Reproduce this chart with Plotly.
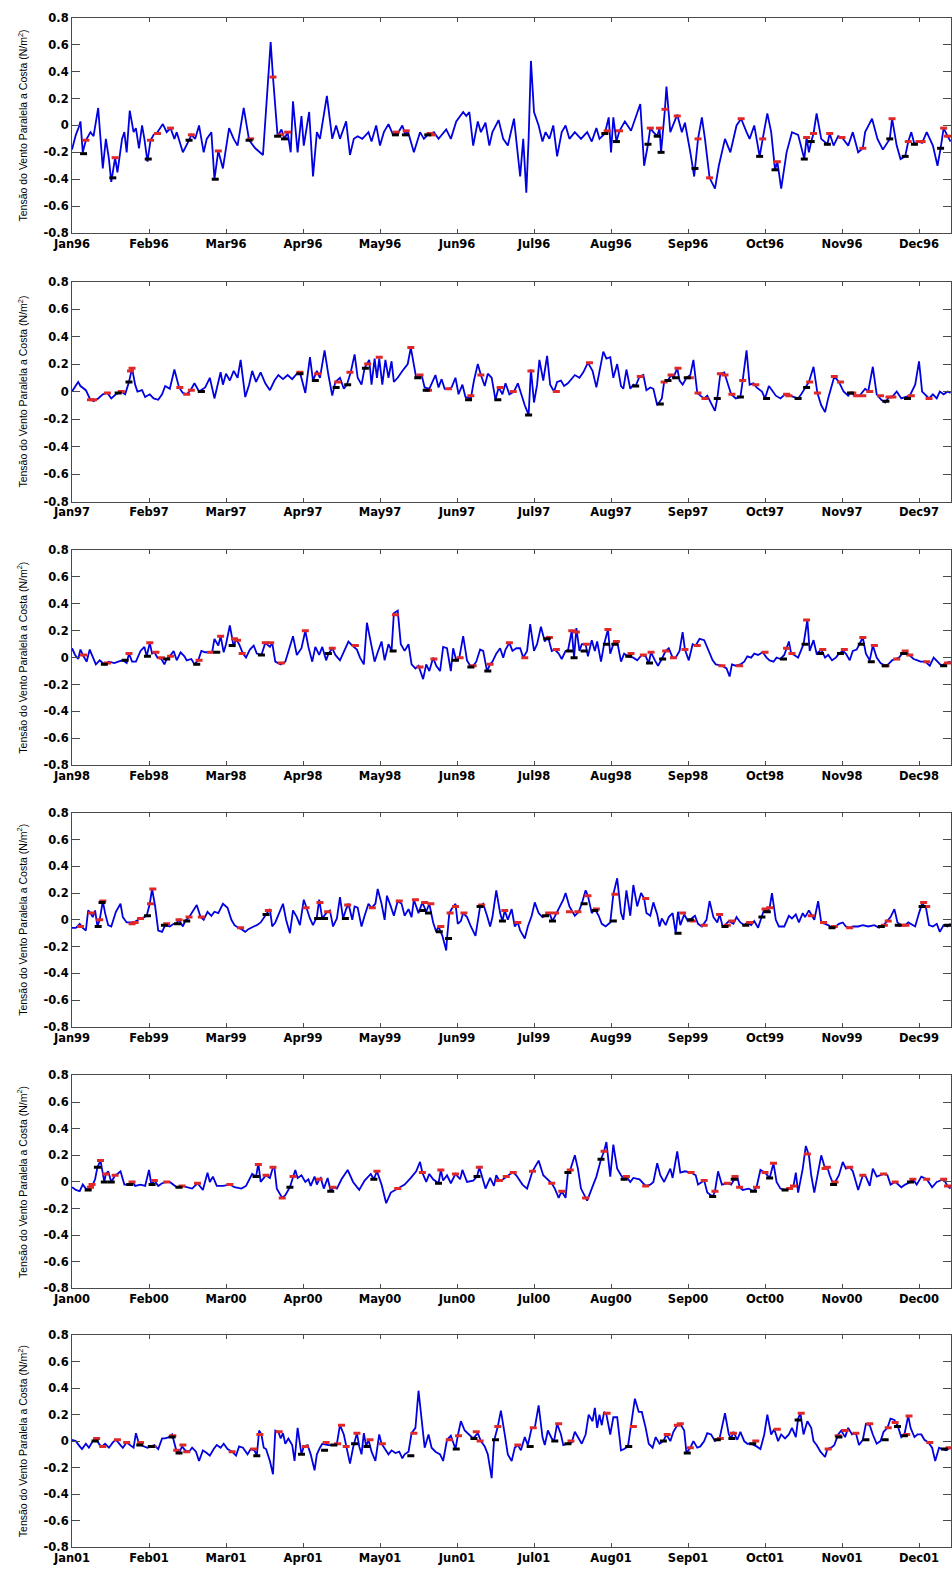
import plotly.graph_objects as go

MONTHS = ['Jan', 'Feb', 'Mar', 'Apr', 'May', 'Jun', 'Jul', 'Aug', 'Sep', 'Oct', 'Nov', 'Dec']
YEARS = ['96', '97', '98', '99', '00', '01']
Y_TICKS = [0.8, 0.6, 0.4, 0.2, 0.0, -0.2, -0.4, -0.6, -0.8]
Y_TICK_TEXT = ['0.8', '0.6', '0.4', '0.2', '0', '-0.2', '-0.4', '-0.6', '-0.8']
Y_TITLE = 'Tensão do Vento Paralela a Costa (N/m<sup>2</sup>)'

# (time in months since 1 Jan, wind stress N/m^2)
s96 = [(0.00,-0.18),(0.05,-0.07),(0.09,-0.01),(0.11,0.03),(0.14,-0.20),(0.18,-0.11),(0.24,-0.05),(0.28,-0.08),(0.34,0.13),(0.40,-0.32),
       (0.44,-0.10),(0.48,-0.25),(0.51,-0.42),(0.56,-0.24),(0.59,-0.35),(0.65,-0.10),(0.68,-0.05),(0.71,-0.20),(0.75,0.11),(0.80,-0.05),
       (0.83,-0.02),(0.87,-0.17),(0.91,0.00),(0.94,-0.10),(0.98,-0.27),(1.02,-0.11),(1.06,-0.07),(1.11,-0.05),(1.18,0.01),(1.23,-0.05),
       (1.28,-0.02),(1.33,-0.10),(1.36,-0.05),(1.44,-0.20),(1.52,-0.11),(1.55,-0.07),(1.60,-0.10),(1.65,0.00),(1.71,-0.20),(1.75,-0.10),
       (1.81,-0.05),(1.85,-0.40),(1.90,-0.19),(1.96,-0.32),(2.04,-0.02),(2.10,-0.10),(2.15,-0.15),(2.23,0.13),(2.30,-0.11),(2.38,-0.17),
       (2.48,-0.22),(2.58,0.62),(2.61,0.36),(2.67,-0.08),(2.72,-0.03),(2.76,-0.10),(2.80,-0.05),(2.84,-0.20),(2.87,0.18),(2.91,-0.10),
       (2.93,-0.20),(2.98,0.07),(3.01,-0.15),(3.08,0.10),(3.13,-0.38),(3.18,-0.05),(3.22,-0.10),(3.31,0.22),(3.38,-0.10),(3.43,0.00),
       (3.48,-0.10),(3.56,0.03),(3.61,-0.22),(3.66,-0.10),(3.71,-0.08),(3.77,-0.10),(3.85,-0.05),(3.89,-0.12),(3.95,0.00),(4.00,-0.15),
       (4.05,-0.05),(4.11,0.01),(4.17,-0.07),(4.23,-0.06),(4.29,0.00),(4.33,-0.07),(4.36,-0.04),(4.44,-0.20),(4.52,-0.05),(4.57,-0.10),
       (4.62,-0.07),(4.66,-0.06),(4.70,-0.05),(4.76,-0.10),(4.86,-0.03),(4.92,-0.10),(4.99,0.03),(5.08,0.10),(5.12,0.07),(5.16,0.10),
       (5.21,-0.15),(5.27,0.03),(5.31,-0.05),(5.37,0.02),(5.42,-0.15),(5.46,-0.05),(5.54,0.04),(5.60,-0.10),(5.66,-0.15),(5.74,0.05),
       (5.77,-0.10),(5.82,-0.38),(5.86,-0.10),(5.90,-0.50),(5.93,-0.10),(5.96,0.48),(6.00,0.10),(6.06,0.00),(6.11,-0.12),(6.15,-0.05),
       (6.20,-0.10),(6.25,0.00),(6.30,-0.23),(6.36,-0.05),(6.41,0.00),(6.46,-0.10),(6.53,-0.05),(6.61,-0.10),(6.69,-0.05),(6.75,-0.12),
       (6.81,-0.02),(6.85,-0.10),(6.92,-0.06),(6.97,0.06),(7.00,-0.20),(7.03,0.06),(7.07,-0.12),(7.11,-0.04),(7.18,0.03),(7.26,-0.04),
       (7.38,0.16),(7.43,-0.30),(7.48,-0.14),(7.51,-0.02),(7.55,-0.05),(7.60,-0.08),(7.63,-0.02),(7.65,-0.20),(7.70,0.12),(7.72,0.29),
       (7.77,-0.05),(7.86,0.08),(7.92,-0.05),(7.96,0.02),(8.03,-0.20),(8.08,-0.38),(8.13,-0.10),(8.18,0.06),(8.22,-0.10),(8.28,-0.39),
       (8.35,-0.47),(8.40,-0.30),(8.48,-0.10),(8.55,-0.20),(8.63,0.00),(8.69,0.05),(8.76,-0.05),(8.80,-0.10),(8.86,0.00),(8.93,-0.23),
       (8.97,-0.10),(9.03,0.09),(9.08,-0.05),(9.13,-0.33),(9.16,-0.27),(9.21,-0.47),(9.28,-0.20),(9.35,-0.05),(9.43,-0.07),(9.51,-0.25),
       (9.54,-0.09),(9.57,-0.20),(9.60,-0.12),(9.63,-0.06),(9.67,0.09),(9.73,-0.10),(9.81,-0.14),(9.84,-0.06),(9.89,-0.15),(9.95,-0.08),
       (10.00,-0.09),(10.08,-0.15),(10.14,-0.05),(10.21,-0.20),(10.27,-0.17),(10.30,-0.05),(10.39,0.05),(10.46,-0.10),(10.53,-0.18),(10.62,-0.10),
       (10.65,0.05),(10.71,-0.15),(10.76,-0.25),(10.82,-0.23),(10.86,-0.12),(10.90,-0.05),(10.94,-0.14),(11.00,-0.12),(11.04,-0.13),(11.10,-0.05),
       (11.18,-0.15),(11.24,-0.30),(11.28,-0.17),(11.32,-0.02),(11.37,-0.08),(11.41,-0.12)]
red96 = [(0.18,-0.11),(0.56,-0.24),(1.02,-0.11),(1.11,-0.06),(1.28,-0.02),(1.55,-0.07),(1.90,-0.19),(2.32,-0.10),(2.61,0.36),(2.71,-0.07),
         (2.80,-0.05),(4.21,-0.05),(4.34,-0.04),(4.65,-0.06),(4.68,-0.07),(6.95,-0.04),(7.11,-0.04),(7.51,-0.02),(7.63,-0.02),(7.70,0.12),
         (7.86,0.07),(8.13,-0.10),(8.28,-0.39),(8.69,0.05),(8.97,-0.10),(9.16,-0.27),(9.54,-0.09),(9.63,-0.06),(9.84,-0.06),(10.00,-0.09),
         (10.27,-0.17),(10.65,0.05),(10.86,-0.12),(11.00,-0.12),(11.04,-0.12),(11.32,-0.02),(11.37,-0.08)]
blk96 = [(0.15,-0.21),(0.53,-0.39),(0.99,-0.25),(1.52,-0.11),(1.86,-0.40),(2.30,-0.11),(2.67,-0.08),(2.76,-0.10),(4.20,-0.07),(4.33,-0.07),
         (4.62,-0.07),(6.92,-0.06),(7.07,-0.12),(7.48,-0.14),(7.60,-0.08),(7.65,-0.20),(8.09,-0.32),(8.93,-0.23),(9.13,-0.33),(9.51,-0.25),
         (9.60,-0.12),(9.81,-0.14),(10.62,-0.10),(10.82,-0.23),(10.94,-0.14),(11.28,-0.17)]

s97 = [(0.00,0.00),(0.04,0.04),(0.08,0.07),(0.11,0.04),(0.15,0.02),(0.18,0.01),(0.23,-0.05),(0.28,-0.07),(0.34,-0.05),(0.40,-0.02),
       (0.46,-0.01),(0.51,-0.05),(0.57,-0.02),(0.64,0.00),(0.69,-0.02),(0.74,0.07),(0.78,0.17),(0.82,0.05),(0.85,0.00),(0.91,0.01),
       (0.95,-0.04),(1.01,-0.02),(1.06,-0.05),(1.12,-0.06),(1.17,-0.02),(1.21,0.04),(1.27,0.02),(1.33,0.16),(1.39,0.03),(1.44,-0.01),
       (1.49,-0.02),(1.54,0.01),(1.59,0.06),(1.65,0.00),(1.73,0.03),(1.79,0.10),(1.85,-0.05),(1.90,0.08),(1.93,0.14),(1.96,0.05),
       (2.00,0.13),(2.05,0.08),(2.10,0.15),(2.15,0.10),(2.19,0.23),(2.25,-0.04),(2.30,0.05),(2.34,0.15),(2.39,0.07),(2.45,0.14),
       (2.51,0.06),(2.57,0.01),(2.63,0.08),(2.68,0.12),(2.74,0.09),(2.80,0.12),(2.86,0.09),(2.92,0.13),(2.96,0.14),(3.03,-0.01),
       (3.09,0.25),(3.13,0.08),(3.18,0.15),(3.22,0.10),(3.28,0.30),(3.33,0.12),(3.38,-0.03),(3.42,0.07),(3.48,0.10),(3.53,0.02),
       (3.57,0.05),(3.62,0.14),(3.67,0.27),(3.71,0.10),(3.76,0.05),(3.80,0.17),(3.86,0.23),(3.89,0.05),(3.93,0.24),(3.96,0.10),
       (3.99,0.24),(4.03,0.05),(4.07,0.23),(4.11,0.10),(4.15,0.22),(4.18,0.07),(4.23,0.10),(4.29,0.15),(4.36,0.20),(4.40,0.32),
       (4.44,0.20),(4.47,0.10),(4.54,0.12),(4.58,0.03),(4.64,0.02),(4.69,0.08),(4.72,0.12),(4.76,0.03),(4.80,0.09),(4.84,0.02),
       (4.89,0.02),(4.93,0.03),(4.98,0.10),(5.02,-0.02),(5.07,0.05),(5.11,-0.04),(5.18,-0.05),(5.22,0.08),(5.27,0.20),(5.31,0.12),
       (5.36,0.04),(5.40,0.13),(5.45,0.10),(5.50,-0.06),(5.54,0.03),(5.59,-0.02),(5.63,0.06),(5.68,-0.02),(5.74,0.00),(5.79,0.06),
       (5.83,-0.02),(5.88,-0.10),(5.93,-0.17),(5.96,0.16),(6.00,-0.08),(6.04,0.05),(6.07,0.23),(6.12,0.08),(6.17,0.26),(6.21,0.05),
       (6.26,0.00),(6.30,0.07),(6.35,0.08),(6.39,0.04),(6.44,0.06),(6.49,0.09),(6.53,0.12),(6.59,0.10),(6.64,0.14),(6.70,0.21),
       (6.76,0.15),(6.81,0.03),(6.85,0.15),(6.90,0.29),(6.94,0.24),(6.99,0.25),(7.03,0.10),(7.08,0.20),(7.13,0.04),(7.16,0.02),
       (7.20,0.16),(7.25,0.02),(7.29,0.05),(7.32,0.04),(7.37,0.11),(7.42,0.12),(7.46,0.01),(7.51,0.03),(7.55,0.02),(7.60,-0.10),
       (7.66,-0.05),(7.69,0.07),(7.74,0.08),(7.78,0.12),(7.81,0.10),(7.86,0.17),(7.89,0.08),(7.93,0.05),(7.98,0.10),(8.03,0.12),
       (8.07,0.23),(8.12,-0.01),(8.16,-0.03),(8.21,-0.05),(8.25,-0.03),(8.30,-0.08),(8.35,-0.14),(8.38,-0.05),(8.42,0.13),(8.47,0.14),
       (8.51,0.06),(8.56,-0.02),(8.62,-0.05),(8.68,-0.04),(8.71,0.08),(8.76,0.30),(8.80,0.05),(8.85,0.06),(8.89,0.03),(8.96,0.00),
       (9.00,-0.05),(9.05,0.04),(9.09,0.01),(9.14,-0.03),(9.20,-0.05),(9.26,-0.02),(9.32,-0.03),(9.38,-0.04),(9.43,-0.05),(9.47,-0.02),
       (9.52,0.03),(9.57,0.07),(9.63,0.18),(9.68,-0.01),(9.73,-0.10),(9.78,-0.15),(9.82,-0.05),(9.87,0.05),(9.90,0.11),(9.96,0.07),
       (10.02,0.00),(10.08,-0.03),(10.11,-0.01),(10.17,-0.03),(10.23,-0.03),(10.30,0.02),(10.34,0.00),(10.40,0.18),(10.45,-0.02),(10.51,-0.06),
       (10.56,-0.08),(10.61,-0.04),(10.65,-0.04),(10.71,0.00),(10.77,-0.05),(10.82,-0.04),(10.88,-0.03),(10.95,0.05),(11.00,0.22),(11.04,0.00),
       (11.09,-0.03),(11.13,-0.05),(11.18,-0.02),(11.23,-0.05),(11.27,0.00),(11.32,-0.02),(11.37,0.00),(11.41,-0.01)]
red97 = [(0.24,-0.06),(0.28,-0.06),(0.46,-0.01),(0.64,0.00),(0.76,0.15),(0.78,0.17),(1.40,0.03),(1.49,-0.02),(1.55,0.01),(1.68,0.00),
         (2.96,0.14),(3.19,0.13),(3.45,0.07),(3.61,0.14),(3.84,0.20),(3.99,0.25),(4.40,0.32),(4.52,0.12),(4.63,0.01),(4.89,0.02),
         (5.18,-0.03),(5.31,0.12),(5.56,0.03),(5.73,0.00),(5.96,0.15),(6.29,0.00),(6.72,0.21),(7.38,0.11),(7.69,0.07),(7.78,0.12),
         (7.87,0.17),(8.03,0.10),(8.13,-0.01),(8.22,-0.05),(8.42,0.13),(8.48,0.12),(8.57,-0.02),(8.71,0.08),(8.88,0.05),(9.28,-0.02),
         (9.31,-0.03),(9.58,0.07),(9.68,-0.01),(9.90,0.11),(9.98,0.07),(10.14,-0.01),(10.19,-0.03),(10.27,-0.03),(10.36,0.00),(10.50,-0.03),
         (10.61,-0.04),(10.66,-0.04),(10.90,-0.03),(11.13,-0.05)]
blk97 = [(0.60,-0.01),(0.74,0.07),(1.68,0.00),(2.96,0.13),(3.16,0.08),(3.43,0.03),(3.58,0.05),(3.81,0.17),(4.49,0.10),(4.60,0.01),
         (5.15,-0.06),(5.53,-0.06),(5.93,-0.17),(7.32,0.04),(7.64,-0.09),(7.74,0.08),(7.84,0.10),(7.99,0.10),(8.38,-0.05),(8.68,-0.04),
         (9.02,-0.05),(9.43,-0.05),(9.54,0.03),(10.11,-0.01),(10.57,-0.07),(10.85,-0.05)]

s98 = [(0.00,0.07),(0.04,0.02),(0.08,-0.01),(0.11,0.06),(0.15,0.01),(0.19,-0.03),(0.23,0.06),(0.27,0.00),(0.31,-0.05),(0.36,-0.02),
       (0.42,-0.05),(0.48,-0.03),(0.55,-0.04),(0.60,-0.03),(0.66,-0.02),(0.71,-0.04),(0.74,0.03),(0.78,-0.03),(0.83,-0.03),(0.89,0.05),
       (0.94,0.08),(0.97,0.01),(1.01,0.11),(1.04,0.03),(1.07,0.04),(1.11,0.00),(1.16,-0.01),(1.20,-0.05),(1.23,-0.01),(1.27,0.01),
       (1.32,0.05),(1.36,-0.02),(1.41,0.04),(1.46,0.01),(1.49,-0.02),(1.55,-0.01),(1.59,-0.05),(1.64,-0.02),(1.68,0.05),(1.73,0.04),
       (1.78,0.04),(1.82,0.04),(1.85,0.14),(1.90,0.09),(1.93,0.16),(1.97,0.04),(2.00,0.10),(2.05,0.24),(2.10,0.08),(2.13,0.14),
       (2.17,0.10),(2.22,0.03),(2.26,0.00),(2.31,0.06),(2.36,0.09),(2.40,0.03),(2.46,0.02),(2.51,0.11),(2.57,0.08),(2.60,0.11),
       (2.64,-0.03),(2.71,-0.05),(2.77,-0.03),(2.83,0.08),(2.87,0.16),(2.92,0.02),(2.98,0.07),(3.03,0.20),(3.07,0.08),(3.12,-0.03),
       (3.16,0.08),(3.21,0.02),(3.25,0.08),(3.30,-0.02),(3.33,0.03),(3.38,0.07),(3.42,0.02),(3.48,-0.02),(3.54,0.05),(3.59,0.12),
       (3.64,0.09),(3.70,0.06),(3.74,0.00),(3.79,-0.05),(3.83,0.26),(3.88,0.12),(3.93,-0.03),(3.97,0.04),(4.02,0.12),(4.06,-0.02),
       (4.11,0.10),(4.15,0.05),(4.18,0.33),(4.23,0.35),(4.27,0.10),(4.32,0.05),(4.37,0.10),(4.41,-0.05),(4.46,-0.08),(4.50,-0.06),
       (4.56,-0.16),(4.60,-0.05),(4.64,-0.10),(4.69,0.00),(4.73,-0.06),(4.78,-0.10),(4.82,0.08),(4.87,0.07),(4.92,-0.10),(4.95,0.07),
       (4.99,-0.02),(5.03,0.00),(5.08,0.16),(5.13,-0.02),(5.18,-0.07),(5.21,-0.06),(5.25,-0.03),(5.30,0.06),(5.34,0.05),(5.39,-0.10),
       (5.43,-0.05),(5.46,-0.03),(5.51,0.03),(5.56,0.07),(5.60,0.00),(5.63,0.06),(5.68,0.11),(5.72,0.05),(5.77,0.07),(5.82,0.07),
       (5.86,0.00),(5.91,0.05),(5.95,0.25),(6.00,0.05),(6.04,0.10),(6.09,0.23),(6.14,0.12),(6.18,0.16),(6.23,0.05),(6.27,0.06),
       (6.32,0.03),(6.36,-0.01),(6.41,0.05),(6.44,0.05),(6.49,0.20),(6.52,0.00),(6.55,0.22),(6.59,0.05),(6.62,0.10),(6.67,0.10),
       (6.70,0.01),(6.75,0.13),(6.79,0.05),(6.82,0.12),(6.87,-0.03),(6.91,0.10),(6.96,0.21),(6.99,0.03),(7.03,0.10),(7.08,0.12),
       (7.13,-0.03),(7.17,0.03),(7.22,0.01),(7.29,0.00),(7.34,-0.02),(7.40,0.02),(7.45,0.01),(7.49,-0.04),(7.52,0.04),(7.57,-0.02),
       (7.61,-0.06),(7.66,-0.01),(7.71,0.05),(7.75,0.07),(7.80,0.00),(7.84,0.00),(7.89,0.05),(7.93,0.19),(7.96,0.06),(8.01,-0.02),
       (8.06,0.10),(8.10,0.09),(8.15,0.14),(8.21,0.13),(8.27,0.05),(8.32,-0.02),(8.36,-0.05),(8.44,-0.06),(8.50,-0.08),(8.54,-0.14),
       (8.57,-0.05),(8.62,-0.06),(8.68,-0.05),(8.73,-0.03),(8.77,0.01),(8.82,0.00),(8.86,0.03),(8.91,0.02),(8.97,0.04),(9.02,0.00),
       (9.06,-0.02),(9.11,-0.03),(9.15,0.00),(9.20,-0.01),(9.25,0.02),(9.28,0.07),(9.31,0.12),(9.34,0.03),(9.38,0.02),(9.43,0.00),
       (9.47,0.05),(9.50,0.10),(9.55,0.28),(9.58,0.05),(9.63,0.13),(9.67,0.03),(9.73,0.06),(9.78,0.00),(9.82,0.02),(9.87,-0.02),
       (9.92,0.00),(9.96,0.03),(10.01,0.05),(10.05,0.03),(10.10,-0.02),(10.14,0.05),(10.19,0.06),(10.23,0.10),(10.27,0.15),(10.31,0.03),
       (10.36,-0.02),(10.40,0.09),(10.45,0.00),(10.50,-0.04),(10.56,-0.06),(10.60,-0.05),(10.65,-0.02),(10.69,-0.01),(10.74,0.00),(10.78,0.03),
       (10.83,0.05),(10.87,0.02),(10.93,-0.01),(10.98,-0.02),(11.02,-0.03),(11.08,-0.03),(11.14,-0.06),(11.19,0.00),(11.24,-0.03),(11.29,-0.06),
       (11.35,-0.04),(11.41,-0.03)]
red98 = [(0.15,0.02),(0.46,-0.04),(0.74,0.03),(1.01,0.11),(1.09,0.04),(1.16,0.00),(1.28,0.01),(1.65,-0.02),(1.80,0.04),(1.93,0.16),
         (2.11,0.14),(2.15,0.13),(2.21,0.03),(2.51,0.11),(2.58,0.11),(2.72,-0.04),(3.03,0.20),(3.38,0.07),(3.68,0.09),(4.20,0.32),
         (4.52,-0.07),(4.70,-0.01),(5.04,0.00),(5.21,-0.06),(5.43,-0.05),(5.68,0.11),(5.88,0.00),(6.20,0.15),(6.29,0.06),(6.49,0.20),
         (6.55,0.19),(6.68,0.10),(6.96,0.21),(7.07,0.12),(7.26,0.03),(7.42,0.02),(7.52,0.04),(7.71,0.05),(7.81,0.00),(7.96,0.06),
         (8.12,0.09),(8.44,-0.06),(8.67,-0.06),(9.00,0.04),(9.28,0.07),(9.35,0.03),(9.54,0.28),(9.75,0.06),(10.03,0.06),(10.27,0.15),
         (10.42,0.09),(10.57,-0.06),(10.71,-0.01),(10.82,0.05),(10.88,0.02),(11.10,-0.03),(11.37,-0.04)]
blk98 = [(0.42,-0.05),(0.69,-0.02),(0.98,0.01),(1.23,-0.01),(1.62,-0.05),(1.88,0.04),(2.08,0.09),(2.46,0.02),(3.33,0.03),(4.17,0.05),
         (4.98,-0.02),(5.18,-0.07),(5.40,-0.10),(6.17,0.14),(6.46,0.05),(6.52,0.00),(6.65,0.05),(6.94,0.10),(7.05,0.10),(7.23,0.01),
         (7.50,-0.04),(7.67,-0.01),(9.24,-0.01),(9.52,0.10),(9.72,0.03),(9.98,0.03),(10.25,0.10),(10.38,-0.03),(10.56,-0.06),(10.80,0.03),
         (11.32,-0.06)]

s99 = [(0.00,-0.06),(0.05,-0.06),(0.10,-0.03),(0.14,-0.06),(0.18,-0.08),(0.21,0.07),(0.24,0.05),(0.27,0.02),(0.30,0.07),(0.33,-0.05),
       (0.36,0.00),(0.40,0.14),(0.43,0.05),(0.47,-0.04),(0.51,-0.05),(0.57,0.06),(0.63,0.12),(0.66,0.02),(0.71,-0.02),(0.75,-0.02),
       (0.80,-0.02),(0.86,0.00),(0.89,0.01),(0.94,0.02),(0.97,0.03),(1.01,0.12),(1.04,0.23),(1.08,0.10),(1.12,-0.08),(1.17,-0.09),
       (1.21,-0.04),(1.27,-0.05),(1.32,-0.03),(1.35,-0.03),(1.39,0.00),(1.44,-0.05),(1.47,-0.01),(1.52,0.02),(1.56,0.06),(1.62,0.11),
       (1.67,0.02),(1.71,0.00),(1.76,0.06),(1.81,0.03),(1.85,0.06),(1.90,0.05),(1.96,0.12),(2.02,0.09),(2.07,0.00),(2.11,-0.04),
       (2.16,-0.06),(2.20,-0.07),(2.25,-0.09),(2.29,-0.07),(2.36,-0.05),(2.40,-0.04),(2.45,-0.02),(2.49,0.02),(2.52,0.04),(2.57,0.08),
       (2.60,-0.05),(2.64,-0.02),(2.69,0.05),(2.74,0.12),(2.78,0.00),(2.83,-0.10),(2.87,0.07),(2.92,0.02),(2.96,-0.04),(3.01,0.15),
       (3.04,0.10),(3.09,0.01),(3.13,-0.04),(3.18,0.02),(3.21,0.15),(3.25,0.01),(3.30,0.05),(3.35,0.07),(3.39,-0.05),(3.44,0.01),
       (3.48,0.17),(3.52,0.01),(3.56,0.08),(3.59,0.12),(3.64,0.00),(3.67,0.10),(3.71,0.09),(3.76,-0.05),(3.80,0.03),(3.85,0.12),
       (3.89,0.09),(3.94,0.12),(3.97,0.23),(4.02,0.12),(4.06,0.00),(4.09,0.18),(4.14,0.10),(4.18,0.03),(4.23,0.14),(4.28,0.12),
       (4.32,0.03),(4.37,0.08),(4.41,0.02),(4.44,0.15),(4.47,0.10),(4.50,0.05),(4.55,0.13),(4.60,0.06),(4.64,0.12),(4.69,-0.02),
       (4.73,-0.09),(4.76,-0.05),(4.81,-0.12),(4.86,-0.23),(4.87,-0.14),(4.90,0.05),(4.93,0.08),(4.98,0.12),(5.01,-0.03),(5.05,-0.01),
       (5.08,0.05),(5.13,0.02),(5.18,-0.05),(5.24,-0.12),(5.30,0.10),(5.34,0.12),(5.39,0.03),(5.43,-0.05),(5.46,0.02),(5.51,0.22),
       (5.56,0.05),(5.59,-0.01),(5.62,0.07),(5.66,0.00),(5.71,0.08),(5.75,-0.05),(5.79,-0.02),(5.82,-0.08),(5.88,-0.14),(5.92,-0.05),
       (5.97,0.03),(6.01,0.13),(6.06,0.05),(6.11,0.02),(6.15,0.03),(6.20,0.05),(6.24,-0.01),(6.29,0.05),(6.33,0.10),(6.38,0.15),
       (6.41,0.20),(6.46,0.10),(6.50,0.06),(6.53,0.03),(6.58,0.06),(6.62,0.12),(6.67,0.22),(6.70,0.18),(6.75,0.05),(6.79,0.08),
       (6.84,0.03),(6.88,-0.03),(6.93,-0.05),(6.99,-0.02),(7.03,0.19),(7.08,0.31),(7.13,0.05),(7.16,0.00),(7.20,0.22),(7.25,0.03),
       (7.29,0.26),(7.34,0.10),(7.39,0.20),(7.43,0.16),(7.46,0.05),(7.51,0.03),(7.55,0.13),(7.60,0.04),(7.63,-0.05),(7.66,0.01),
       (7.71,-0.04),(7.75,0.02),(7.80,0.05),(7.84,-0.10),(7.87,0.06),(7.90,-0.04),(7.95,0.04),(8.00,-0.01),(8.09,0.03),(8.13,-0.03),
       (8.18,-0.05),(8.24,0.00),(8.28,0.14),(8.33,0.02),(8.38,-0.02),(8.41,0.04),(8.45,-0.05),(8.48,-0.04),(8.53,-0.01),(8.59,-0.03),
       (8.63,0.02),(8.68,-0.02),(8.73,-0.04),(8.77,-0.02),(8.82,-0.04),(8.86,-0.01),(8.91,-0.06),(8.96,0.02),(8.99,0.08),(9.03,0.06),
       (9.06,0.09),(9.09,0.20),(9.14,0.00),(9.18,-0.05),(9.25,-0.05),(9.31,0.03),(9.35,0.01),(9.40,0.04),(9.44,-0.02),(9.49,0.05),
       (9.52,0.02),(9.57,0.07),(9.61,0.03),(9.64,0.00),(9.69,0.14),(9.73,-0.02),(9.78,-0.03),(9.82,-0.04),(9.87,-0.06),(9.92,-0.05),
       (9.96,-0.03),(10.01,-0.02),(10.05,-0.05),(10.10,-0.06),(10.14,-0.05),(10.21,-0.05),(10.27,-0.04),(10.34,-0.05),(10.42,-0.04),(10.48,-0.06),
       (10.54,-0.04),(10.59,-0.01),(10.63,0.02),(10.68,0.08),(10.72,-0.02),(10.77,-0.04),(10.82,-0.04),(10.86,-0.02),(10.91,-0.04),(10.95,-0.05),
       (11.00,0.05),(11.04,0.12),(11.09,0.09),(11.13,-0.04),(11.18,-0.05),(11.23,-0.03),(11.27,-0.09),(11.32,-0.04),(11.37,-0.05),(11.41,-0.03)]
red99 = [(0.11,-0.05),(0.25,0.05),(0.36,0.00),(0.40,0.14),(0.78,-0.03),(0.82,-0.02),(0.89,0.01),(1.02,0.12),(1.05,0.23),(1.23,-0.03),
         (1.39,0.00),(1.52,0.02),(1.68,0.02),(2.19,-0.06),(2.55,0.07),(3.04,0.09),(3.22,0.13),(3.32,0.06),(3.58,0.11),(3.90,0.09),
         (4.25,0.14),(4.46,0.15),(4.58,0.13),(4.66,0.12),(4.79,-0.05),(4.91,0.05),(4.98,0.10),(5.09,0.05),(5.32,0.11),(5.62,0.07),
         (5.79,-0.02),(6.19,0.05),(6.28,0.05),(6.46,0.06),(6.57,0.06),(6.70,0.18),(6.81,0.08),(7.05,0.19),(7.45,0.16),(7.93,0.05),
         (8.06,-0.01),(8.21,-0.04),(8.41,0.04),(8.51,-0.04),(8.57,-0.01),(8.80,-0.02),(9.00,0.08),(9.06,0.09),(9.60,0.03),(9.76,-0.02),
         (9.90,-0.05),(10.10,-0.06),(10.55,-0.04),(10.60,-0.01),(10.78,-0.04),(10.83,-0.04),(11.06,0.13),(11.10,0.10)]
blk99 = [(0.34,-0.05),(0.39,0.13),(0.98,0.03),(1.20,-0.04),(1.37,-0.03),(1.49,-0.01),(2.52,0.04),(3.19,0.01),(3.28,0.01),(3.55,0.01),
         (4.55,0.07),(4.63,0.05),(4.77,-0.09),(4.89,-0.14),(5.30,0.10),(5.59,-0.01),(6.15,0.03),(6.24,-0.01),(6.65,0.12),(6.79,0.07),
         (7.03,-0.01),(7.87,-0.10),(8.03,0.00),(8.48,-0.05),(8.75,-0.04),(8.96,0.02),(9.03,0.06),(9.87,-0.06),(10.51,-0.05),(10.73,-0.04),
         (11.04,0.10),(11.37,-0.04)]

s00 = [(0.00,-0.04),(0.05,-0.06),(0.10,-0.07),(0.14,-0.02),(0.18,-0.05),(0.21,-0.06),(0.24,-0.04),(0.27,-0.02),(0.30,0.02),(0.33,0.11),
       (0.37,0.16),(0.40,0.05),(0.42,0.00),(0.44,0.06),(0.47,0.08),(0.51,0.00),(0.56,0.05),(0.59,0.06),(0.63,0.08),(0.68,-0.02),
       (0.72,-0.02),(0.75,-0.02),(0.79,0.00),(0.82,-0.03),(0.89,-0.02),(0.95,-0.03),(1.00,0.09),(1.03,-0.02),(1.07,0.01),(1.12,-0.03),
       (1.17,-0.01),(1.23,0.00),(1.27,0.00),(1.32,-0.02),(1.36,-0.04),(1.43,-0.03),(1.50,-0.04),(1.56,-0.05),(1.63,-0.01),(1.70,-0.06),
       (1.76,0.07),(1.79,0.00),(1.83,0.04),(1.88,-0.03),(1.96,-0.03),(2.05,-0.02),(2.11,-0.04),(2.20,-0.05),(2.26,-0.03),(2.34,0.06),
       (2.39,0.04),(2.42,0.14),(2.45,0.00),(2.52,0.05),(2.57,0.03),(2.61,0.11),(2.63,0.10),(2.66,-0.05),(2.73,-0.12),(2.77,-0.10),
       (2.83,-0.04),(2.87,0.04),(2.90,0.09),(2.93,0.03),(2.98,0.05),(3.03,0.00),(3.07,0.02),(3.10,-0.03),(3.15,0.04),(3.18,-0.02),
       (3.21,0.02),(3.23,0.03),(3.27,-0.05),(3.32,0.03),(3.36,-0.07),(3.39,-0.04),(3.44,-0.05),(3.50,0.02),(3.58,0.09),(3.65,0.00),
       (3.73,-0.06),(3.80,0.01),(3.88,0.06),(3.92,0.02),(3.96,0.08),(4.02,-0.02),(4.08,-0.16),(4.14,-0.08),(4.23,-0.05),(4.32,-0.02),
       (4.40,0.03),(4.47,0.08),(4.52,0.15),(4.55,0.07),(4.60,0.00),(4.64,0.06),(4.69,0.02),(4.76,-0.01),(4.79,0.09),(4.82,0.01),
       (4.87,0.05),(4.92,-0.01),(4.98,0.06),(5.04,0.02),(5.07,0.09),(5.13,0.00),(5.21,0.01),(5.26,0.04),(5.29,0.11),(5.37,-0.05),
       (5.43,0.03),(5.48,-0.03),(5.51,0.05),(5.55,0.01),(5.60,0.02),(5.64,0.04),(5.69,0.06),(5.73,0.07),(5.77,0.05),(5.85,-0.02),
       (5.91,-0.05),(5.98,0.08),(6.06,0.16),(6.12,0.05),(6.18,0.02),(6.23,-0.01),(6.27,-0.05),(6.32,-0.12),(6.36,-0.07),(6.41,-0.12),
       (6.44,0.07),(6.47,0.09),(6.53,0.20),(6.57,0.10),(6.61,-0.05),(6.67,-0.12),(6.69,-0.14),(6.75,-0.05),(6.81,0.04),(6.87,0.17),
       (6.91,0.23),(6.94,0.30),(6.99,0.04),(7.03,0.28),(7.08,0.10),(7.13,0.05),(7.17,0.02),(7.20,0.04),(7.25,0.00),(7.29,0.03),
       (7.37,0.02),(7.45,-0.03),(7.51,-0.02),(7.55,0.00),(7.60,0.14),(7.64,0.05),(7.69,0.00),(7.77,0.10),(7.80,0.03),(7.86,0.23),
       (7.90,0.07),(7.96,0.08),(8.04,0.07),(8.10,0.05),(8.13,-0.02),(8.21,0.01),(8.25,-0.08),(8.32,-0.11),(8.35,-0.07),(8.39,0.08),
       (8.44,-0.02),(8.51,-0.01),(8.56,-0.02),(8.60,0.02),(8.64,0.04),(8.67,-0.04),(8.71,-0.06),(8.79,-0.05),(8.85,-0.07),(8.89,-0.04),
       (8.94,0.09),(9.00,0.07),(9.06,0.03),(9.11,0.14),(9.15,0.00),(9.20,-0.05),(9.26,-0.06),(9.32,-0.05),(9.37,-0.03),(9.40,0.07),
       (9.43,-0.08),(9.49,0.10),(9.53,0.27),(9.57,0.20),(9.60,0.05),(9.64,-0.08),(9.69,0.08),(9.73,0.20),(9.78,0.10),(9.81,0.11),
       (9.84,0.05),(9.89,-0.02),(9.91,0.00),(9.96,0.05),(10.01,0.15),(10.05,0.10),(10.10,0.11),(10.14,0.08),(10.21,-0.06),(10.27,0.05),
       (10.31,0.04),(10.36,-0.03),(10.40,0.10),(10.45,0.04),(10.54,0.06),(10.59,0.05),(10.63,-0.02),(10.69,0.00),(10.77,-0.04),(10.82,-0.02),
       (10.89,0.00),(10.92,0.02),(10.97,-0.02),(11.03,0.04),(11.10,0.02),(11.17,-0.04),(11.23,0.00),(11.32,0.02),(11.37,-0.03),(11.41,-0.05)]
red00 = [(0.24,-0.04),(0.26,-0.02),(0.37,0.16),(0.44,0.06),(0.56,0.05),(0.78,0.00),(1.07,0.01),(1.23,0.00),(1.43,-0.03),(1.63,-0.01),
         (2.05,-0.02),(2.42,0.13),(2.52,0.05),(2.61,0.11),(2.73,-0.12),(2.87,0.04),(3.21,0.02),(3.39,-0.04),(3.96,0.08),(4.23,-0.05),
         (4.55,0.07),(4.79,0.09),(4.98,0.06),(5.29,0.11),(5.55,0.01),(5.64,0.04),(5.73,0.07),(5.98,0.08),(6.23,-0.01),(6.36,-0.07),
         (6.47,0.09),(6.67,-0.12),(6.91,0.23),(7.20,0.04),(7.45,-0.03),(8.04,0.07),(8.21,0.01),(8.35,-0.07),(8.51,-0.01),(8.61,0.04),
         (8.67,-0.04),(8.89,-0.04),(9.00,0.07),(9.11,0.14),(9.32,-0.05),(9.37,-0.03),(9.55,0.21),(9.78,0.10),(9.81,0.11),(9.91,0.00),
         (10.10,0.11),(10.27,0.05),(10.54,0.06),(10.69,0.00),(10.92,0.02),(11.10,0.02),(11.32,0.02),(11.37,-0.03)]
blk00 = [(0.21,-0.06),(0.33,0.11),(0.42,0.00),(0.51,0.00),(0.75,-0.02),(1.04,-0.02),(1.39,-0.04),(2.39,0.04),(2.83,-0.04),(3.36,-0.07),
         (3.92,0.02),(4.76,-0.01),(5.26,0.04),(6.44,0.07),(6.87,0.17),(7.17,0.02),(8.32,-0.11),(8.60,0.02),(8.85,-0.07),(9.06,0.03),
         (9.26,-0.06),(9.89,-0.02),(10.89,0.00)]

s01 = [(0.00,0.01),(0.05,0.00),(0.10,-0.04),(0.13,-0.06),(0.18,-0.02),(0.22,-0.05),(0.27,0.00),(0.31,0.02),(0.36,-0.03),(0.39,-0.04),
       (0.43,-0.02),(0.48,-0.05),(0.53,-0.01),(0.57,0.01),(0.63,-0.03),(0.66,-0.05),(0.71,-0.01),(0.75,-0.03),(0.80,-0.05),(0.83,0.06),
       (0.86,0.00),(0.89,-0.03),(0.94,-0.04),(0.98,-0.05),(1.03,-0.04),(1.07,-0.03),(1.12,-0.06),(1.17,0.02),(1.21,0.02),(1.26,0.03),
       (1.30,0.05),(1.35,-0.06),(1.39,-0.09),(1.43,-0.04),(1.47,-0.07),(1.52,-0.08),(1.56,-0.05),(1.61,-0.08),(1.65,-0.15),(1.70,-0.07),
       (1.75,-0.09),(1.79,-0.11),(1.84,-0.06),(1.88,-0.03),(1.93,-0.05),(1.97,-0.02),(2.02,-0.06),(2.08,-0.08),(2.13,-0.11),(2.17,-0.04),
       (2.22,-0.05),(2.28,-0.10),(2.32,-0.06),(2.37,-0.07),(2.40,-0.11),(2.43,0.08),(2.46,0.05),(2.49,-0.05),(2.52,-0.06),(2.57,-0.15),
       (2.61,-0.25),(2.64,0.08),(2.68,0.07),(2.71,0.02),(2.74,0.06),(2.77,-0.02),(2.81,0.02),(2.86,-0.03),(2.89,-0.15),(2.93,0.10),
       (2.98,-0.10),(3.01,-0.04),(3.06,-0.03),(3.10,-0.10),(3.15,-0.22),(3.18,-0.10),(3.22,-0.05),(3.25,-0.02),(3.33,-0.03),(3.39,-0.03),
       (3.44,-0.02),(3.48,0.12),(3.53,0.05),(3.56,-0.04),(3.61,-0.17),(3.65,-0.05),(3.70,0.06),(3.73,-0.04),(3.76,-0.10),(3.79,0.06),
       (3.82,-0.04),(3.85,0.01),(3.89,-0.08),(3.94,-0.15),(3.99,0.05),(4.02,-0.02),(4.06,-0.06),(4.11,-0.10),(4.15,-0.07),(4.20,-0.09),
       (4.25,-0.08),(4.29,-0.13),(4.32,-0.10),(4.37,-0.08),(4.41,0.06),(4.46,0.10),(4.50,0.38),(4.55,0.10),(4.58,-0.05),(4.63,0.05),
       (4.67,-0.05),(4.72,-0.08),(4.78,-0.10),(4.82,-0.15),(4.87,0.01),(4.92,0.04),(4.98,-0.06),(5.01,0.04),(5.05,0.15),(5.10,0.08),
       (5.16,0.05),(5.21,0.02),(5.27,0.06),(5.31,0.00),(5.36,-0.04),(5.40,-0.10),(5.45,-0.28),(5.48,0.00),(5.53,0.11),(5.57,0.23),
       (5.62,0.05),(5.66,-0.10),(5.71,-0.15),(5.75,-0.05),(5.79,-0.03),(5.83,-0.07),(5.88,0.03),(5.92,-0.03),(5.97,0.10),(6.01,0.10),
       (6.06,0.27),(6.11,0.03),(6.14,-0.03),(6.18,0.08),(6.23,0.02),(6.26,0.00),(6.30,0.13),(6.35,0.05),(6.38,-0.03),(6.43,-0.02),
       (6.49,-0.01),(6.53,0.07),(6.58,0.02),(6.62,-0.02),(6.67,0.05),(6.71,0.20),(6.76,0.15),(6.79,0.25),(6.82,0.10),(6.85,0.20),
       (6.88,0.12),(6.91,0.22),(6.94,0.20),(6.99,0.05),(7.03,0.18),(7.08,0.18),(7.13,-0.07),(7.17,-0.06),(7.22,-0.04),(7.26,0.11),
       (7.31,0.32),(7.36,0.22),(7.40,0.22),(7.45,0.10),(7.49,-0.02),(7.54,-0.05),(7.58,0.03),(7.63,-0.02),(7.68,0.00),(7.72,0.05),
       (7.77,0.00),(7.81,0.07),(7.86,0.12),(7.90,0.13),(7.95,0.08),(7.98,-0.09),(8.03,-0.05),(8.07,0.00),(8.12,-0.05),(8.16,-0.04),
       (8.21,0.00),(8.25,0.06),(8.30,0.05),(8.35,0.00),(8.41,0.02),(8.45,0.13),(8.48,0.21),(8.53,0.05),(8.56,0.02),(8.59,0.07),
       (8.64,0.01),(8.68,0.07),(8.73,0.00),(8.77,-0.02),(8.82,-0.02),(8.89,-0.04),(8.94,-0.06),(8.99,0.05),(9.03,0.20),(9.08,0.05),
       (9.12,0.09),(9.17,0.00),(9.21,0.05),(9.26,0.02),(9.31,0.05),(9.35,0.10),(9.40,0.03),(9.43,0.17),(9.46,0.21),(9.50,0.05),
       (9.55,0.15),(9.60,0.10),(9.63,0.00),(9.67,-0.03),(9.72,-0.08),(9.78,-0.12),(9.81,-0.06),(9.86,-0.05),(9.90,-0.03),(9.95,0.05),
       (9.99,0.08),(10.04,0.03),(10.08,0.10),(10.13,0.05),(10.18,0.06),(10.22,-0.03),(10.27,0.01),(10.31,0.13),(10.36,0.12),(10.40,0.05),
       (10.45,-0.02),(10.50,0.00),(10.54,0.07),(10.59,0.10),(10.63,0.17),(10.68,0.16),(10.72,0.12),(10.77,0.03),(10.81,0.05),(10.86,0.19),
       (10.89,0.10),(10.94,0.03),(10.98,0.05),(11.03,0.05),(11.07,0.01),(11.12,-0.01),(11.17,-0.05),(11.21,-0.15),(11.26,-0.05),(11.30,-0.06),
       (11.35,-0.07),(11.41,-0.05)]
red01 = [(0.32,0.02),(0.40,-0.04),(0.59,0.01),(0.71,-0.01),(0.89,-0.01),(1.05,-0.04),(1.31,0.04),(1.36,-0.07),(1.44,-0.03),(1.49,-0.08),
         (2.08,-0.08),(2.36,-0.06),(2.44,0.05),(2.69,0.07),(3.03,-0.04),(3.30,-0.01),(3.45,-0.02),(3.50,0.12),(3.56,-0.04),(3.70,0.06),
         (3.87,0.01),(4.03,-0.02),(4.44,0.06),(4.90,0.01),(5.02,0.04),(5.25,0.07),(5.30,0.00),(5.53,0.11),(5.79,-0.03),(5.99,0.10),
         (6.32,0.13),(6.48,0.00),(6.95,0.21),(7.29,0.11),(7.73,0.05),(7.86,0.12),(7.90,0.13),(8.03,-0.05),(8.42,0.02),(8.59,0.06),
         (8.88,0.00),(9.16,0.09),(9.47,0.21),(9.82,-0.06),(9.95,0.04),(10.04,0.08),(10.18,0.06),(10.36,0.13),(10.60,0.10),(10.69,0.14),
         (10.84,0.05),(10.87,0.19),(11.14,-0.01),(11.39,-0.05)]
blk01 = [(0.30,0.00),(0.88,-0.03),(1.03,-0.04),(1.30,0.03),(1.39,-0.09),(2.40,-0.11),(2.98,-0.10),(3.28,-0.07),(3.40,-0.03),(3.67,-0.02),
         (3.83,-0.04),(4.40,-0.11),(4.99,-0.06),(5.22,0.02),(5.50,0.01),(5.95,-0.04),(6.27,0.00),(6.44,-0.02),(7.23,-0.04),(7.68,0.00),
         (7.99,-0.09),(8.38,0.01),(8.57,0.02),(8.84,-0.02),(9.43,0.16),(9.96,0.03),(10.31,0.01),(10.56,0.01),(10.72,0.11),(10.81,0.04),
         (11.33,-0.06)]

SERIES = [s96, s97, s98, s99, s00, s01]
REDS = [red96, red97, red98, red99, red00, red01]
BLACKS = [blk96, blk97, blk98, blk99, blk00, blk01]

# ---------------- layout (pixel geometry) ----------------
W, H = 952, 1570
LEFT = 72
PANELS_PX = [(11, 228), (277, 499), (548, 765), (813, 1029), (1078, 1293), (1340, 1554)]
X_END = (W - LEFT) / 77.09  # months visible

AX_COLOR = '#4a4a4a'
TICK_FONT = dict(family='DejaVu Sans', size=11.5, color='black', weight='bold')

fig = go.Figure()
layout = {}
annotations = []
for i in range(6):
    sfx = '' if i == 0 else str(i + 1)
    xa, ya = 'x' + sfx, 'y' + sfx
    t, v = zip(*SERIES[i])
    fig.add_trace(go.Scatter(x=t, y=v, mode='lines', line=dict(color='#0000e0', width=1.8),
                             xaxis=xa, yaxis=ya, showlegend=False, hoverinfo='skip'))
    rt, rv = zip(*REDS[i])
    fig.add_trace(go.Scatter(x=rt, y=rv, mode='markers',
                             marker=dict(symbol='line-ew', size=5, line=dict(width=3, color='#e02828')),
                             xaxis=xa, yaxis=ya, showlegend=False, hoverinfo='skip'))
    bt, bv = zip(*BLACKS[i])
    fig.add_trace(go.Scatter(x=bt, y=bv, mode='markers',
                             marker=dict(symbol='line-ew', size=5, line=dict(width=3, color='black')),
                             xaxis=xa, yaxis=ya, showlegend=False, hoverinfo='skip'))
    top, bot = PANELS_PX[i]
    dom = [1 - bot / H, 1 - top / H]
    layout['xaxis' + sfx] = dict(domain=[0, 1], range=[0, X_END], anchor=ya,
                                 tickmode='array', tickvals=list(range(12)),
                                 ticktext=[m + YEARS[i] for m in MONTHS],
                                 ticks='inside', ticklen=4, tickcolor=AX_COLOR,
                                 showline=True, linecolor=AX_COLOR, linewidth=1, mirror='ticks',
                                 showgrid=False, zeroline=False, tickfont=TICK_FONT)
    layout['yaxis' + sfx] = dict(domain=dom, range=[-0.8, 0.8], anchor=xa,
                                 tickmode='array', tickvals=Y_TICKS, ticktext=Y_TICK_TEXT,
                                 ticks='inside', ticklen=8, tickcolor=AX_COLOR,
                                 showline=True, linecolor=AX_COLOR, linewidth=1, mirror='ticks',
                                 showgrid=False, zeroline=False, tickfont=TICK_FONT)
    annotations.append(dict(text=Y_TITLE, xref='paper', yref='paper',
                            x=(22 - LEFT) / (W - LEFT), y=(dom[0] + dom[1]) / 2,
                            xanchor='center', yanchor='middle', textangle=-90, showarrow=False,
                            font=dict(family='Liberation Sans', size=10.5, color='black')))

fig.update_layout(**layout)
fig.update_layout(width=W, height=H, margin=dict(l=LEFT, r=0, t=0, b=0),
                  paper_bgcolor='white', plot_bgcolor='white', annotations=annotations)
fig.write_html('out.html',
               config={'displayModeBar': False},
               post_script="document.body.style.margin='0px';"
                           "document.documentElement.style.overflow='hidden';"
                           "document.body.style.overflow='hidden';")
